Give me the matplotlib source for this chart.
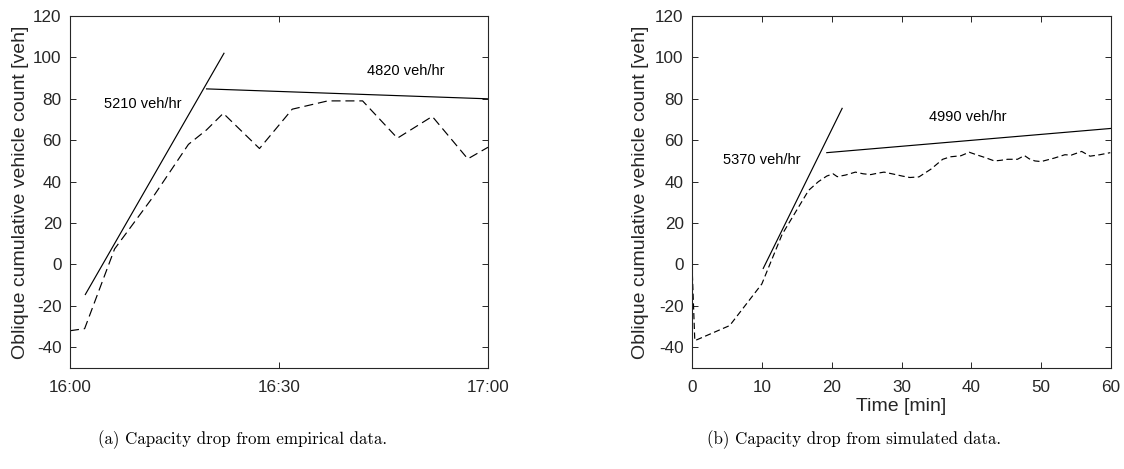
import matplotlib
matplotlib.use('Agg')
import matplotlib.pyplot as plt

# (a) empirical data, minutes after 16:00
emp_t = [0, 2.1, 6.4, 12.0, 17.0, 19.6, 22.0, 27.2, 31.9, 37.0, 42.0, 47.0, 52.0, 57.1, 60]
emp_n = [-32, -31, 7.5, 33, 58, 65, 73, 56, 75, 79, 79, 61, 71.5, 51, 56.6]
emp_fit1_t = [2.2, 22.1]
emp_fit1_n = [-14.5, 102]
emp_fit2_t = [19.6, 60]
emp_fit2_n = [84.8, 80]
emp_xticks = [0, 30, 60]
emp_xticklabels = ['16:00', '16:30', '17:00']

# (b) simulated data, minutes
sim_t = [0, 0.4, 5.4, 10.0, 12.9, 16.7, 18.1, 19.3, 20.2, 20.8, 22.0, 23.4, 24.5, 25.6,
         26.6, 27.5, 28.9, 30.1, 31.2, 32.5, 34.2, 35.9, 37.0, 38.5, 39.7, 40.9,
         42.0, 43.3, 44.2, 45.2, 46.6, 47.6, 48.3, 49.1, 50.0, 51.0, 51.9, 53.4,
         54.3, 55.8, 57.0, 58.4, 59.9]
sim_n = [0, -36.8, -29.5, -9.4, 14.5, 35.8, 40, 42.7, 43.8, 42.4, 43.2, 44.6, 43.8, 43.4,
         44.1, 44.6, 43.6, 42.7, 42.0, 42.3, 46.0, 50.8, 52.0, 52.5, 54.2, 52.8,
         51.6, 50.0, 50.3, 50.8, 50.8, 52.6, 51.0, 50.0, 49.7, 50.6, 51.4, 53.0,
         52.8, 54.6, 52.3, 53.0, 54.0]
sim_fit1_t = [10.2, 21.5]
sim_fit1_n = [-1.9, 75.4]
sim_fit2_t = [19.3, 60]
sim_fit2_n = [54, 65.7]
sim_xticks = [0, 10, 20, 30, 40, 50, 60]

yticks = [-40, -20, 0, 20, 40, 60, 80, 100, 120]
ylabel = 'Oblique cumulative vehicle count [veh]'

plt.rcParams['font.family'] = ['Liberation Sans', 'DejaVu Sans']
plt.rcParams['lines.scale_dashes'] = False
plt.rcParams['axes.unicode_minus'] = False
axcol = '#262626'

fig = plt.figure(figsize=(11.24, 4.69), dpi=100)
ax1 = fig.add_axes([70 / 1124, 1 - 368 / 469, 418 / 1124, 352 / 469])
ax2 = fig.add_axes([692 / 1124, 1 - 368 / 469, 419 / 1124, 352 / 469])

ax1.plot(emp_t, emp_n, color='k', lw=0.85, ls=(0, (6.5, 3.5)))
ax1.plot(emp_fit1_t, emp_fit1_n, color='k', lw=0.85)
ax1.plot(emp_fit2_t, emp_fit2_n, color='k', lw=0.85)
ax1.text(10.4, 77.5, '5210 veh/hr', fontsize=10.5, ha='center', va='center')
ax1.text(48.2, 93.2, '4820 veh/hr', fontsize=10.5, ha='center', va='center')
ax1.set_xticks(emp_xticks)
ax1.set_xticklabels(emp_xticklabels)
ax1.yaxis.set_label_coords(-0.098, 0.5)

ax2.plot(sim_t, sim_n, color='k', lw=0.85, ls=(0, (4.5, 2.5)))
ax2.plot(sim_fit1_t, sim_fit1_n, color='k', lw=0.85)
ax2.plot(sim_fit2_t, sim_fit2_n, color='k', lw=0.85)
ax2.text(10.0, 50.3, '5370 veh/hr', fontsize=10.5, ha='center', va='center')
ax2.text(39.5, 71.3, '4990 veh/hr', fontsize=10.5, ha='center', va='center')
ax2.set_xticks(sim_xticks)
ax2.set_xlabel('Time [min]', fontsize=14, color=axcol)
ax2.xaxis.set_label_coords(0.5, -0.085)
ax2.yaxis.set_label_coords(-0.103, 0.5)

for ax in (ax1, ax2):
    ax.set_xlim(0, 60)
    ax.set_ylim(-50, 120)
    ax.set_yticks(yticks)
    ax.set_ylabel(ylabel, fontsize=14, color=axcol)
    ax.tick_params(direction='in', top=True, right=True, length=4, width=0.7,
                   color=axcol, labelcolor=axcol, labelsize=12.3)
    ax.tick_params(axis='x', pad=8.5)
    ax.tick_params(axis='y', pad=6)
    for s in ax.spines.values():
        s.set_color(axcol)
        s.set_linewidth(0.8)

fig.text(243 / 1124, 1 - 440 / 469, '(a) Capacity drop from empirical data.',
         family='cmr10', fontsize=12.2, ha='center', va='center')
fig.text(854 / 1124, 1 - 440 / 469, '(b) Capacity drop from simulated data.',
         family='cmr10', fontsize=12.2, ha='center', va='center')

fig.savefig('out.png', dpi=100)
